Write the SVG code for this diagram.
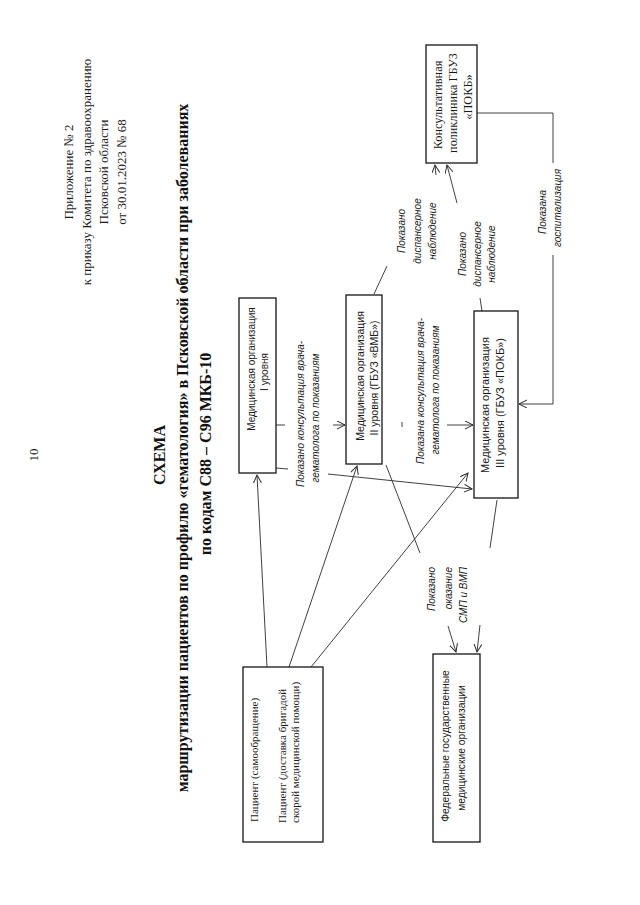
<svg xmlns="http://www.w3.org/2000/svg" width="640" height="905" viewBox="0 0 640 905">
<style>
.bg{fill:#ffffff}
.box{fill:#ffffff;stroke:#151515;stroke-width:1.3}
.ln{fill:none;stroke:#2a2a2a;stroke-width:0.9}
.hdr{font-family:"Liberation Serif","Times New Roman",serif;font-size:13px;fill:#1a1a1a}
.ttl{font-family:"Liberation Serif","Times New Roman",serif;font-size:16px;font-weight:bold;fill:#111}
.bs{font-family:"Liberation Sans",Arial,sans-serif;fill:#1a1a1a}
.bsr{font-family:"Liberation Serif","Times New Roman",serif;fill:#1a1a1a}
.lbl{font-family:"Liberation Sans",Arial,sans-serif;font-size:10px;font-style:italic;fill:#1a1a1a}
</style>
<defs>
<marker id="arr" markerWidth="10" markerHeight="10" refX="8" refY="4" orient="auto" markerUnits="userSpaceOnUse">
<path d="M0,0 L8,4 L0,8" fill="none" stroke="#2a2a2a" stroke-width="1"/>
</marker>
</defs>
<rect class="bg" x="0" y="0" width="640" height="905"/>

<g id="header">
<text class="hdr" transform="translate(37.5,455) rotate(-90)" text-anchor="middle">10</text>
<text class="hdr" transform="translate(72.5,172) rotate(-90)" text-anchor="middle">Приложение № 2</text>
<text class="hdr" transform="translate(90.5,172) rotate(-90)" text-anchor="middle">к приказу Комитета по здравоохранению</text>
<text class="hdr" transform="translate(107.5,172) rotate(-90)" text-anchor="middle">Псковской области</text>
<text class="hdr" transform="translate(125.5,172) rotate(-90)" text-anchor="middle">от 30.01.2023 № 68</text>
</g>

<g id="title">
<text class="ttl" transform="translate(165,455) rotate(-90)" text-anchor="middle">СХЕМА</text>
<text class="ttl" transform="translate(188,448) rotate(-90)" text-anchor="middle">маршрутизации пациентов по профилю «гематология» в Псковской области при заболеваниях</text>
<text class="ttl" transform="translate(211,454) rotate(-90)" text-anchor="middle">по кодам С88 – С96 МКБ-10</text>
</g>

<g id="connectors">
<line class="ln" x1="267" y1="667" x2="257" y2="475" marker-end="url(#arr)"/>
<line class="ln" x1="289" y1="667" x2="357" y2="466" marker-end="url(#arr)"/>
<line class="ln" x1="311" y1="667" x2="468" y2="473" marker-end="url(#arr)"/>
<line class="ln" x1="276" y1="425" x2="285" y2="425"/>
<line class="ln" x1="333" y1="425" x2="345" y2="425" marker-end="url(#arr)"/>
<line class="ln" x1="276" y1="468" x2="288" y2="469"/>
<line class="ln" x1="328" y1="474" x2="472" y2="489" marker-end="url(#arr)"/>
<line class="ln" x1="402" y1="422" x2="402" y2="427"/>
<line class="ln" x1="447" y1="425" x2="473" y2="425" marker-end="url(#arr)"/>
<line class="ln" x1="386" y1="465" x2="420" y2="553"/>
<line class="ln" x1="448" y1="626" x2="456" y2="652" marker-end="url(#arr)"/>
<line class="ln" x1="497" y1="500" x2="490" y2="548"/>
<line class="ln" x1="480" y1="625" x2="477" y2="652" marker-end="url(#arr)"/>
<line class="ln" x1="374" y1="294" x2="387" y2="266"/>
<line class="ln" x1="436" y1="175" x2="435" y2="165" marker-end="url(#arr)"/>
<line class="ln" x1="482" y1="311" x2="480" y2="298"/>
<line class="ln" x1="457" y1="203" x2="447" y2="165" marker-end="url(#arr)"/>
<path class="ln" d="M477,113 H553 V163"/>
<path class="ln" d="M553,255 V404 H519" marker-end="url(#arr)"/>
</g>

<g id="labels">
<text class="lbl" transform="translate(303.5,414) rotate(-90)" text-anchor="middle">Показано консультация врача-</text>
<text class="lbl" transform="translate(318.5,418) rotate(-90)" text-anchor="middle">гематолога по показаниям</text>
<text class="lbl" transform="translate(423.5,391) rotate(-90)" text-anchor="middle">Показана консультация врача-</text>
<text class="lbl" transform="translate(438.5,390) rotate(-90)" text-anchor="middle">гематолога по показаниям</text>
<text class="lbl" transform="translate(404.5,231) rotate(-90)" text-anchor="middle">Показано</text>
<text class="lbl" transform="translate(420.5,231) rotate(-90)" text-anchor="middle">диспансерное</text>
<text class="lbl" transform="translate(435.5,231) rotate(-90)" text-anchor="middle">наблюдение</text>
<text class="lbl" transform="translate(465.5,254) rotate(-90)" text-anchor="middle">Показано</text>
<text class="lbl" transform="translate(480.5,254) rotate(-90)" text-anchor="middle">диспансерное</text>
<text class="lbl" transform="translate(494.5,254) rotate(-90)" text-anchor="middle">наблюдение</text>
<text class="lbl" transform="translate(545.5,212) rotate(-90)" text-anchor="middle">Показана</text>
<text class="lbl" transform="translate(560.5,208) rotate(-90)" text-anchor="middle">госпитализация</text>
<text class="lbl" transform="translate(434.5,567) rotate(-90)" text-anchor="end">Показано</text>
<text class="lbl" transform="translate(451.5,567) rotate(-90)" text-anchor="end">оказание</text>
<text class="lbl" transform="translate(466.5,567) rotate(-90)" text-anchor="end">СМП и ВМП</text>
</g>

<g id="node-mo1">
<rect class="box" x="239" y="298" width="37" height="175"/>
<text class="bs" font-size="10" transform="translate(254.5,369) rotate(-90)" text-anchor="middle">Медицинская организация</text>
<text class="bs" font-size="10" transform="translate(267.5,372) rotate(-90)" text-anchor="middle">I уровня</text>
</g>

<g id="node-mo2">
<rect class="box" x="346" y="295" width="36" height="169"/>
<text class="bs" font-size="10.5" transform="translate(363.5,376) rotate(-90)" text-anchor="middle">Медицинская организация</text>
<text class="bs" font-size="10.5" transform="translate(377.5,378) rotate(-90)" text-anchor="middle">II уровня (ГБУЗ «ВМБ»)</text>
</g>

<g id="node-mo3">
<rect class="box" x="474" y="311" width="44" height="187"/>
<text class="bs" font-size="11" transform="translate(489,405) rotate(-90)" text-anchor="middle">Медицинская организация</text>
<text class="bs" font-size="11" transform="translate(504,403) rotate(-90)" text-anchor="middle">III уровня (ГБУЗ «ПОКБ»)</text>
</g>

<g id="node-konsult">
<rect class="box" x="426" y="45" width="51" height="118"/>
<text class="bsr" font-size="12.3" transform="translate(441.5,105) rotate(-90)" text-anchor="middle">Консультативная</text>
<text class="bsr" font-size="12.3" transform="translate(456.5,103) rotate(-90)" text-anchor="middle">поликлиника ГБУЗ</text>
<text class="bsr" font-size="12.3" transform="translate(471.5,97) rotate(-90)" text-anchor="middle">«ПОКБ»</text>
</g>

<g id="node-patient">
<rect class="box" x="243" y="667" width="80" height="175"/>
<text class="bsr" font-size="11" transform="translate(258,822) rotate(-90)" text-anchor="start">Пациент (самообращение)</text>
<text class="bsr" font-size="11" transform="translate(286,823) rotate(-90)" text-anchor="start">Пациент (доставка бригадой</text>
<text class="bsr" font-size="11" transform="translate(299,823) rotate(-90)" text-anchor="start">скорой медицинской помощи)</text>
</g>

<g id="node-federal">
<rect class="box" x="433" y="654" width="47" height="188"/>
<text class="bs" font-size="10.3" transform="translate(449,746) rotate(-90)" text-anchor="middle">Федеральные государственные</text>
<text class="bs" font-size="10.3" transform="translate(465,748) rotate(-90)" text-anchor="middle">медицинские организации</text>
</g>
</svg>
